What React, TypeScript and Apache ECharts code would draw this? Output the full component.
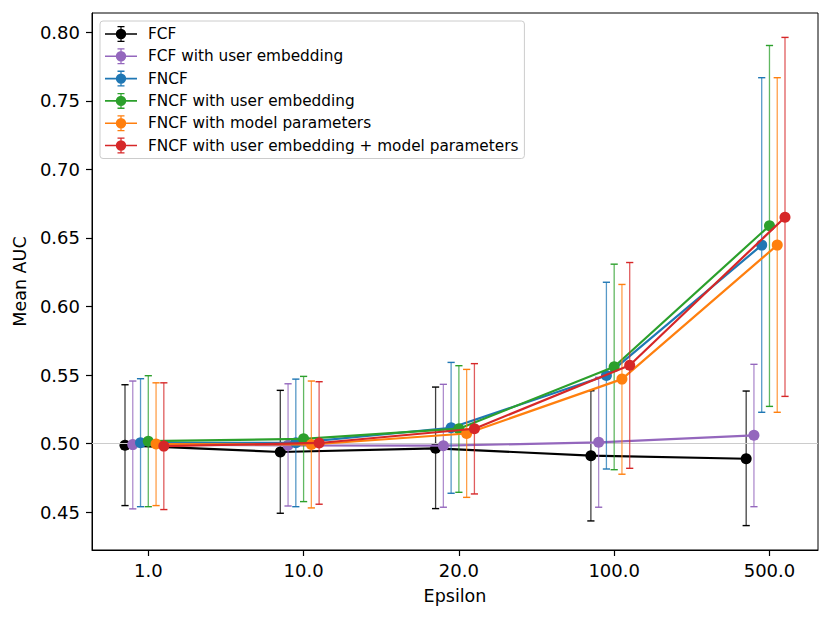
import React, { useEffect, useRef } from "react";
import * as echarts from "echarts";

const categories = ["1.0", "10.0", "20.0", "100.0", "500.0"];
const seriesNames = [
  "FCF",
  "FCF with user embedding",
  "FNCF",
  "FNCF with user embedding",
  "FNCF with model parameters",
  "FNCF with user embedding + model parameters",
];
const colors = ["#000000", "#9467bd", "#1f77b4", "#2ca02c", "#ff7f0e", "#d62728"];
const offsets = [-0.15, -0.1, -0.05, 0, 0.05, 0.1];

const fcfMean = [0.4987, 0.4938, 0.4965, 0.4911, 0.4889];
const fcfLow = [0.4547, 0.4491, 0.4525, 0.4435, 0.4401];
const fcfHigh = [0.5429, 0.5388, 0.5412, 0.5385, 0.5383];

const fcfUeMean = [0.4992, 0.4987, 0.4984, 0.5009, 0.506];
const fcfUeLow = [0.4523, 0.4544, 0.4535, 0.4535, 0.4539];
const fcfUeHigh = [0.5456, 0.5436, 0.5432, 0.5483, 0.5578];

const fncfMean = [0.5005, 0.5005, 0.5115, 0.5496, 0.6448];
const fncfLow = [0.4539, 0.4539, 0.4637, 0.4814, 0.5228];
const fncfHigh = [0.5473, 0.547, 0.5592, 0.6177, 0.767];

const fncfUeMean = [0.5017, 0.5034, 0.5108, 0.556, 0.659];
const fncfUeLow = [0.4539, 0.4576, 0.4644, 0.4809, 0.5271];
const fncfUeHigh = [0.5495, 0.549, 0.5568, 0.6309, 0.7905];

const fncfMpMean = [0.4996, 0.4993, 0.5073, 0.547, 0.6448];
const fncfMpLow = [0.4547, 0.453, 0.4607, 0.4776, 0.5228];
const fncfMpHigh = [0.5443, 0.5456, 0.5541, 0.6161, 0.767];

const fncfUeMpMean = [0.4981, 0.5004, 0.5108, 0.5571, 0.6652];
const fncfUeMpLow = [0.4518, 0.4557, 0.4632, 0.4819, 0.5344];
const fncfUeMpHigh = [0.5443, 0.5451, 0.5583, 0.6321, 0.7964];

const yTicks = [0.45, 0.5, 0.55, 0.6, 0.65, 0.7, 0.75, 0.8];
const refLine = 0.5;

const means = [fcfMean, fcfUeMean, fncfMean, fncfUeMean, fncfMpMean, fncfUeMpMean];
const lows = [fcfLow, fcfUeLow, fncfLow, fncfUeLow, fncfMpLow, fncfUeMpLow];
const highs = [fcfHigh, fcfUeHigh, fncfHigh, fncfUeHigh, fncfMpHigh, fncfUeMpHigh];

const FONT = "DejaVu Sans";
const TICK_LEN = 6;

const legendIcon =
  "path://M0 7.2 L32 7.2 L32 8.8 L0 8.8 Z " +
  "M15.4 1 L16.6 1 L16.6 15 L15.4 15 Z " +
  "M12.5 0 L19.5 0 L19.5 1.3 L12.5 1.3 Z " +
  "M12.5 14.7 L19.5 14.7 L19.5 16 L12.5 16 Z " +
  "M10.8 8 A5.2 5.2 0 1 1 21.2 8 A5.2 5.2 0 1 1 10.8 8 Z";

export default function App() {
  const ref = useRef<HTMLDivElement>(null);

  useEffect(() => {
    document.body.style.margin = "0";
    if (!ref.current) return;
    const chart = echarts.init(ref.current, undefined, { renderer: "svg" });

    const allLow = Math.min(...lows.flat());
    const allHigh = Math.max(...highs.flat());
    const yPad = (allHigh - allLow) * 0.05;
    const yMin = allLow - yPad;
    const yMax = allHigh + yPad;
    const xLo = offsets[0];
    const xHi = categories.length - 1 + offsets[offsets.length - 1];
    const xPad = (xHi - xLo) * 0.05;
    const xMin = xLo - xPad;
    const xMax = xHi + xPad;

    const series: any[] = [
      {
        type: "line",
        name: "_ref",
        data: [],
        silent: true,
        z: 1,
        markLine: {
          silent: true,
          symbol: "none",
          label: { show: false },
          lineStyle: { color: "#cccccc", width: 1, type: "solid" },
          data: [{ yAxis: refLine }],
        },
      },
    ];

    seriesNames.forEach((name, k) => {
      const color = colors[k];
      series.push({
        type: "custom",
        name: name + " (error)",
        z: 3 + k * 2,
        silent: true,
        data: categories.map((_, i) => [i + offsets[k], lows[k][i], highs[k][i]]),
        encode: { x: 0, y: [1, 2] },
        renderItem: (params: any, api: any) => {
          const x = api.value(0);
          const p1 = api.coord([x, api.value(1)]);
          const p2 = api.coord([x, api.value(2)]);
          const cw = 3.6;
          return {
            type: "group",
            children: [
              {
                type: "line",
                shape: { x1: p1[0], y1: p1[1], x2: p2[0], y2: p2[1] },
                style: { stroke: color, lineWidth: 1.3, opacity: 0.75 },
              },
              {
                type: "line",
                shape: { x1: p1[0] - cw, y1: p1[1], x2: p1[0] + cw, y2: p1[1] },
                style: { stroke: color, lineWidth: 1.4 },
              },
              {
                type: "line",
                shape: { x1: p2[0] - cw, y1: p2[1], x2: p2[0] + cw, y2: p2[1] },
                style: { stroke: color, lineWidth: 1.4 },
              },
            ],
          };
        },
      });
      series.push({
        type: "line",
        name,
        z: 4 + k * 2,
        data: categories.map((_, i) => [i + offsets[k], means[k][i]]),
        symbol: "circle",
        symbolSize: 11,
        showSymbol: true,
        lineStyle: { color, width: 2.2 },
        itemStyle: { color, borderWidth: 0 },
        emphasis: { disabled: true },
      });
    });

    chart.setOption({
      animation: false,
      textStyle: { fontFamily: FONT },
      grid: {
        left: 92,
        right: 13,
        top: 13,
        bottom: 69,
        show: true,
        borderColor: "#000000",
        borderWidth: 1,
        backgroundColor: "transparent",
      },
      legend: {
        show: true,
        orient: "vertical",
        left: 100,
        top: 21,
        padding: [5, 6, 5, 5],
        itemGap: 6.3,
        itemWidth: 32,
        itemHeight: 16,
        backgroundColor: "rgba(255,255,255,0.8)",
        borderColor: "#cccccc",
        borderWidth: 1,
        borderRadius: 3,
        itemStyle: { borderWidth: 0 },
        textStyle: {
          fontFamily: FONT,
          fontSize: 15.3,
          color: "#000000",
          padding: [0, 0, 0, 6],
          lineHeight: 16,
        },
        data: seriesNames.map((n) => ({ name: n, icon: legendIcon })),
      },
      xAxis: {
        type: "value",
        min: xMin,
        max: xMax,
        name: "Epsilon",
        nameLocation: "middle",
        nameGap: 37,
        nameTextStyle: { fontFamily: FONT, fontSize: 17.5, color: "#000000" },
        axisLine: { show: true, onZero: false, lineStyle: { color: "#000000", width: 1 } },
        splitLine: { show: false },
        axisTick: {
          show: true,
          length: TICK_LEN,
          lineStyle: { color: "#000000", width: 1.2 },
          customValues: categories.map((_, i) => i),
        },
        axisLabel: {
          fontFamily: FONT,
          fontSize: 18,
          color: "#000000",
          margin: 11,
          customValues: categories.map((_, i) => i),
          formatter: (v: number) => categories[Math.round(v)] ?? "",
        },
      },
      yAxis: {
        type: "value",
        position: "left",
        min: yMin,
        max: yMax,
        name: "Mean AUC",
        nameLocation: "middle",
        nameGap: 62,
        nameRotate: 90,
        nameTextStyle: { fontFamily: FONT, fontSize: 17.5, color: "#000000" },
        axisLine: { show: true, onZero: false, lineStyle: { color: "#000000", width: 1 } },
        splitLine: { show: false },
        axisTick: {
          show: true,
          length: TICK_LEN,
          lineStyle: { color: "#000000", width: 1.2 },
          customValues: yTicks,
        },
        axisLabel: {
          fontFamily: FONT,
          fontSize: 18,
          color: "#000000",
          margin: 12,
          customValues: yTicks,
          formatter: (v: number) => v.toFixed(2),
        },
      },
      series,
    });

    return () => chart.dispose();
  }, []);

  return <div ref={ref} style={{ width: 831, height: 619 }} />;
}
